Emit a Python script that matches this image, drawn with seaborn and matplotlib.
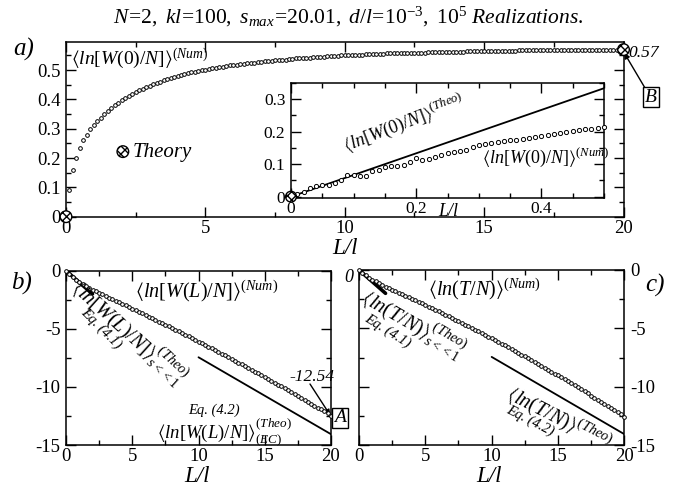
import numpy as np
import matplotlib
matplotlib.use("Agg")
import matplotlib.pyplot as plt
import seaborn as sns
from matplotlib.ticker import MultipleLocator, FixedLocator, FixedFormatter

# ---------------- data ----------------
# panel a : <ln[W(0)/N]>^(Num), x = L/l every 0.125
a_x = [i * 0.125 for i in range(161)]
a_y = [
    0.000, 0.090, 0.160, 0.200, 0.235, 0.260, 0.280, 0.298,
    0.312, 0.326, 0.338, 0.350, 0.360, 0.370, 0.380, 0.389,
    0.397, 0.405, 0.412, 0.419, 0.425, 0.431, 0.437, 0.442,
    0.447, 0.452, 0.457, 0.461, 0.465, 0.469, 0.473, 0.476,
    0.480, 0.483, 0.486, 0.489, 0.492, 0.494, 0.497, 0.499,
    0.502, 0.504, 0.506, 0.508, 0.510, 0.512, 0.514, 0.516,
    0.517, 0.519, 0.520, 0.522, 0.523, 0.525, 0.526, 0.527,
    0.529, 0.530, 0.531, 0.532, 0.533, 0.534, 0.535, 0.536,
    0.538, 0.539, 0.540, 0.541, 0.542, 0.543, 0.543, 0.544,
    0.545, 0.546, 0.546, 0.547, 0.548, 0.549, 0.549, 0.550,
    0.551, 0.551, 0.552, 0.552, 0.553, 0.553, 0.554, 0.554,
    0.555, 0.555, 0.556, 0.556, 0.557, 0.557, 0.557, 0.558,
    0.558, 0.558, 0.559, 0.559, 0.559, 0.560, 0.560, 0.560,
    0.561, 0.561, 0.561, 0.562, 0.562, 0.562, 0.562, 0.563,
    0.563, 0.563, 0.563, 0.564, 0.564, 0.564, 0.564, 0.565,
    0.565, 0.565, 0.565, 0.565, 0.566, 0.566, 0.566, 0.566,
    0.566, 0.566, 0.567, 0.567, 0.567, 0.567, 0.567, 0.567,
    0.567, 0.568, 0.568, 0.568, 0.568, 0.568, 0.568, 0.568,
    0.568, 0.569, 0.569, 0.569, 0.569, 0.569, 0.569, 0.569,
    0.569, 0.570, 0.570, 0.570, 0.570, 0.570, 0.570, 0.570,
    0.570,
]
theory_x = [0.0, 20.0]
theory_y = [0.0, 0.57]
legend_x = [2.04]
legend_y = [0.222]

# inset : small L/l
in_x = [i * 0.01 for i in range(51)]
in_y = [
    0.000, 0.008, 0.015, 0.028, 0.033, 0.035, 0.037, 0.042, 0.052, 0.066,
    0.068, 0.062, 0.064, 0.080, 0.083, 0.090, 0.093, 0.094, 0.098, 0.108,
    0.118, 0.114, 0.115, 0.122, 0.128, 0.133, 0.138, 0.141, 0.144, 0.152,
    0.158, 0.163, 0.166, 0.168, 0.171, 0.173, 0.175, 0.177, 0.180, 0.182,
    0.186, 0.189, 0.192, 0.195, 0.198, 0.201, 0.204, 0.207, 0.209, 0.210,
    0.213,
]
in_theo_x = [0.0, 0.5]
in_theo_y = [0.0, 0.333]

# panels b, c : x every 0.25
bc_x = [i * 0.25 for i in range(81)]
b_y = [
    0.000, -0.302, -0.557, -0.778, -0.974, -1.152, -1.317, -1.472,
    -1.621, -1.765, -1.906, -2.044, -2.181, -2.316, -2.453, -2.589,
    -2.724, -2.858, -2.993, -3.128, -3.265, -3.402, -3.539, -3.676,
    -3.814, -3.953, -4.092, -4.232, -4.372, -4.513, -4.654, -4.796,
    -4.939, -5.082, -5.226, -5.370, -5.515, -5.660, -5.806, -5.952,
    -6.100, -6.247, -6.395, -6.544, -6.694, -6.844, -6.994, -7.145,
    -7.297, -7.449, -7.602, -7.755, -7.909, -8.063, -8.218, -8.374,
    -8.530, -8.687, -8.844, -9.002, -9.161, -9.320, -9.479, -9.639,
    -9.800, -9.961, -10.123, -10.286, -10.449, -10.612, -10.776, -10.941,
    -11.106, -11.272, -11.439, -11.606, -11.773, -11.941, -12.110, -12.279,
    -12.500,
]
c_y = [
    0.000, -0.249, -0.464, -0.654, -0.825, -0.985, -1.134, -1.277,
    -1.415, -1.551, -1.684, -1.815, -1.945, -2.076, -2.205, -2.336,
    -2.466, -2.598, -2.731, -2.864, -2.998, -3.141, -3.277, -3.413,
    -3.550, -3.688, -3.827, -3.967, -4.107, -4.249, -4.391, -4.534,
    -4.678, -4.822, -4.968, -5.114, -5.261, -5.409, -5.558, -5.708,
    -5.858, -6.009, -6.162, -6.314, -6.468, -6.623, -6.778, -6.935,
    -7.092, -7.250, -7.408, -7.568, -7.728, -7.890, -8.052, -8.215,
    -8.378, -8.543, -8.709, -8.875, -9.042, -9.210, -9.379, -9.548,
    -9.718, -9.890, -10.062, -10.235, -10.408, -10.583, -10.758, -10.935,
    -11.112, -11.290, -11.468, -11.648, -11.828, -12.009, -12.192, -12.374,
    -12.558,
]
small_s_x = [0.0, 2.0]
small_s_y = [0.0, -2.0]
ec_x = [10.0, 20.0]
ec_y = [-7.45, -14.07]
b_end_value = -12.54

a_yticks = [0, 0.1, 0.2, 0.3, 0.4, 0.5]
a_yticklabels = ["0", "0.1", "0.2", "0.3", "0.4", "0.5"]
in_xticks = [0, 0.2, 0.4]
in_xticklabels = ["0", "0.2", "0.4"]
in_yticks = [0, 0.1, 0.2, 0.3]
in_yticklabels = ["0", "0.1", "0.2", "0.3"]
bc_xticks = [0, 5, 10, 15, 20]
bc_yticks = [0, -5, -10, -15]

# ---------------- style ----------------
sns.set_style("ticks")
plt.rcParams["font.family"] = ["Liberation Serif", "DejaVu Serif"]
plt.rcParams["mathtext.fontset"] = "custom"
plt.rcParams["mathtext.rm"] = "Liberation Serif"
plt.rcParams["mathtext.it"] = "Liberation Serif:italic"
plt.rcParams["mathtext.bf"] = "Liberation Serif:bold"
plt.rcParams["mathtext.fallback"] = "stix"
plt.rcParams["axes.unicode_minus"] = False
plt.rcParams["axes.linewidth"] = 1.1

W, H = 695, 487
fig = plt.figure(figsize=(W / 100, H / 100), dpi=100)


def fx(px):
    return px / W


def fy(py):
    return 1 - py / H


def rect(l, t, r, b):
    return [fx(l), fy(b), (r - l) / W, (b - t) / H]


def style(ax, lab=13.5):
    ax.tick_params(which="both", direction="in", top=True, right=True,
                   colors="black", labelsize=lab, pad=4)
    ax.tick_params(axis="x", pad=2.5)
    ax.tick_params(which="major", length=7, width=1.0)
    ax.tick_params(which="minor", length=3.5, width=1.0)
    for s in ax.spines.values():
        s.set_color("black")
        s.set_linewidth(1.1)
    ax.set_facecolor("white")


def num_scatter(ax, x, y, s=7):
    sns.scatterplot(x=x, y=y, ax=ax, s=s, color="white", edgecolor="black",
                    linewidth=0.7, zorder=4, clip_on=False, legend=False)


def theory_marker(ax, x, y, s=70):
    return ax.scatter(x, y, s=s, facecolor="white", edgecolor="black",
                      linewidth=1.0, hatch="xxxx", zorder=6, clip_on=False)


# ---------------- panel a ----------------
ax_a = fig.add_axes(rect(66, 41.7, 623.5, 216.7))
style(ax_a)
num_scatter(ax_a, a_x, a_y)
theory_marker(ax_a, theory_x, theory_y)
theory_marker(ax_a, legend_x, legend_y)
ax_a.set_xlim(0, 20)
ax_a.set_ylim(0, 0.597)
ax_a.xaxis.set_major_locator(FixedLocator(bc_xticks))
ax_a.xaxis.set_minor_locator(MultipleLocator(2.5))
ax_a.yaxis.set_major_locator(FixedLocator(a_yticks))
ax_a.yaxis.set_major_formatter(FixedFormatter(a_yticklabels))
ax_a.yaxis.set_minor_locator(MultipleLocator(0.05))
ax_a.set_xlabel("")
ax_a.set_ylabel("")

# inset
ax_i = fig.add_axes(rect(291, 82.7, 604, 198.3))
style(ax_i, lab=12.5)
sns.lineplot(x=in_theo_x, y=in_theo_y, ax=ax_i, color="black", lw=1.3, zorder=3)
num_scatter(ax_i, in_x, in_y, s=9)
theory_marker(ax_i, [0.0], [0.0], s=60)
ax_i.set_xlim(0, 0.5)
ax_i.set_ylim(-0.005, 0.35)
ax_i.xaxis.set_major_locator(FixedLocator(in_xticks))
ax_i.xaxis.set_major_formatter(FixedFormatter(in_xticklabels))
ax_i.xaxis.set_minor_locator(MultipleLocator(0.05))
ax_i.yaxis.set_major_locator(FixedLocator(in_yticks))
ax_i.yaxis.set_major_formatter(FixedFormatter(in_yticklabels))
ax_i.yaxis.set_minor_locator(MultipleLocator(0.05))
ax_i.tick_params(axis="x", pad=2)
ax_i.set_xlabel("")
ax_i.set_ylabel("")

# ---------------- panel b ----------------
ax_b = fig.add_axes(rect(66, 270.7, 331, 445))
style(ax_b)
sns.lineplot(x=small_s_x, y=small_s_y, ax=ax_b, color="black", lw=2.6, zorder=3)
sns.lineplot(x=ec_x, y=ec_y, ax=ax_b, color="black", lw=1.3, zorder=3)
num_scatter(ax_b, bc_x, b_y)
ax_b.set_xlim(0, 20)
ax_b.set_ylim(-15, 0)
ax_b.xaxis.set_major_locator(FixedLocator(bc_xticks))
ax_b.xaxis.set_minor_locator(MultipleLocator(2.5))
ax_b.yaxis.set_major_locator(FixedLocator(bc_yticks))
ax_b.yaxis.set_minor_locator(MultipleLocator(2.5))
ax_b.set_xlabel("")
ax_b.set_ylabel("")

# ---------------- panel c ----------------
ax_c = fig.add_axes(rect(359, 270, 624.3, 445))
style(ax_c)
sns.lineplot(x=small_s_x, y=small_s_y, ax=ax_c, color="black", lw=2.6, zorder=3)
sns.lineplot(x=ec_x, y=ec_y, ax=ax_c, color="black", lw=1.3, zorder=3)
num_scatter(ax_c, bc_x, c_y)
ax_c.set_xlim(0, 20)
ax_c.set_ylim(-15, 0)
ax_c.xaxis.set_major_locator(FixedLocator(bc_xticks))
ax_c.xaxis.set_minor_locator(MultipleLocator(2.5))
ax_c.yaxis.set_major_locator(FixedLocator(bc_yticks))
ax_c.yaxis.set_minor_locator(MultipleLocator(2.5))
ax_c.tick_params(labelleft=False, labelright=True)
ax_c.set_xlabel("")
ax_c.set_ylabel("")


# ---------------- texts ----------------
def t(px, py, s, size, **kw):
    kw.setdefault("ha", "left")
    kw.setdefault("va", "baseline")
    return fig.text(fx(px), fy(py), s, fontsize=size, color="black", **kw)


ITF = dict(style="italic")

t(348, 17, r"$\mathit{N\!=\!2,\ kl\!=\!100,\ s_{max}\!=\!20.01,\ d/l\!=\!10^{-3},\ 10^{5}\ Realizations.}$",
  15.5, ha="center", va="center")
t(24, 49, "a)", 18, ha="center", va="center", **ITF)
t(22, 283, "b)", 18, ha="center", va="center", **ITF)
t(655, 285, "c)", 18, ha="center", va="center", **ITF)
t(345, 249, "L/l", 16.5, ha="center", va="center", **ITF)
t(197, 477, "L/l", 16.5, ha="center", va="center", **ITF)
t(489, 477, "L/l", 16.5, ha="center", va="center", **ITF)

# panel a annotations
t(71, 64, r"$\mathit{\langle ln[W(0)/N]\rangle^{(Num)}}$", 14)
t(133, 152, "Theory", 15, va="center", **ITF)
t(628, 53, "0.57", 12.5, va="center", **ITF)
t(651, 97, "B", 14, ha="center", va="center", **ITF,
  bbox=dict(boxstyle="square,pad=0.1", fc="white", ec="black", lw=1.0))
ax_a.annotate("", xy=(20, 0.563), xycoords="data",
              xytext=(fx(645), fy(88)), textcoords="figure fraction",
              arrowprops=dict(arrowstyle="-|>", color="black", lw=1.0,
                              mutation_scale=8, shrinkA=0, shrinkB=1),
              annotation_clip=False)

# inset annotations
t(346, 151, r"$\mathit{\langle ln[W(0)/N]\rangle^{(Theo)}}$", 13,
  rotation=21, rotation_mode="anchor")
t(482, 163, r"$\mathit{\langle ln[W(0)/N]\rangle^{(Num)}}$", 13)
t(448, 212, "L/l", 13, ha="center", va="center", **ITF)

# panel b annotations
t(135, 297, r"$\mathit{\langle ln[W(L)/N]\rangle^{(Num)}}$", 14.5)
t(70, 290, r"$\mathit{\langle ln[W(L)/N]\rangle^{(Theo)}_{s<<1}}$", 14.5,
  rotation=-42, rotation_mode="anchor")
t(80, 313, "Eq. (4.1)", 10.5, rotation=-45, rotation_mode="anchor", **ITF)
t(289, 377, "-12.54", 12.5, va="center", **ITF)
t(340, 418, "A", 14, ha="center", va="center", **ITF,
  bbox=dict(boxstyle="square,pad=0.1", fc="white", ec="black", lw=1.0))
ax_b.annotate("", xy=(20, b_end_value), xycoords="data",
              xytext=(fx(310), fy(384)), textcoords="figure fraction",
              arrowprops=dict(arrowstyle="-|>", color="black", lw=1.0,
                              mutation_scale=8, shrinkA=0, shrinkB=1),
              annotation_clip=False)
t(188, 414, "Eq. (4.2)", 10.5, **ITF)
t(157, 439, r"$\mathit{\langle ln[W(L)/N]\rangle^{(Theo)}_{(EC)}}$", 13.5)

# panel c annotations
t(428, 295, r"$\mathit{\langle ln(T/N)\rangle^{(Num)}}$", 14.5)
t(360, 302, r"$\mathit{\langle ln(T/N)\rangle^{(Theo)}_{s<<1}}$", 14.5,
  rotation=-30, rotation_mode="anchor")
t(364, 320, "Eq. (4.1)", 10.5, rotation=-32, rotation_mode="anchor", **ITF)
t(505, 398, r"$\mathit{\langle ln(T/N)\rangle^{(Theo)}}$", 14.5,
  rotation=-27, rotation_mode="anchor")
t(506, 412, "Eq. (4.2)", 10.5, rotation=-27, rotation_mode="anchor", **ITF)
t(349, 277, "0", 13, ha="center", va="center", **ITF)

fig.savefig("out.png", dpi=100)
